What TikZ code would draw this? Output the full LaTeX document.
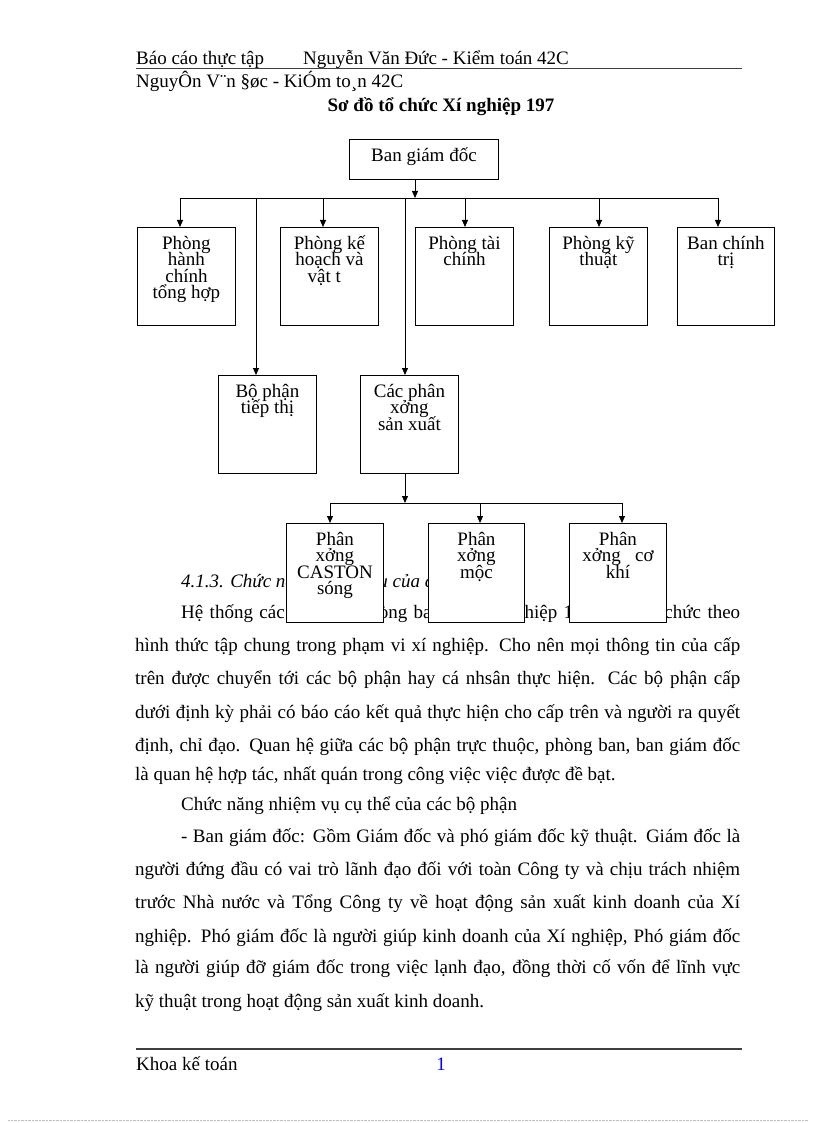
\documentclass[tikz,border=0pt]{standalone}
\usepackage{fontspec}
\setmainfont{Liberation Serif}
\usetikzlibrary{arrows.meta}

\newcommand{\unittext}[3]{\parbox[c][#2][t]{#1}{\centering\fontsize{19}{16.5}\selectfont\lineskiplimit=-100pt\rule{0pt}{22pt}#3}}
\newcommand{\fullline}[1]{\makebox[605pt][s]{#1}}
\newcommand{\indline}[1]{\makebox[559pt][s]{#1}}

\begin{document}
\begin{tikzpicture}[
    x=1pt, y=-1pt,
    font=\fontsize{19}{22}\selectfont,
    unit/.style={draw, line width=0.9pt, fill=white, inner sep=0pt, anchor=north west},
    txt/.style={anchor=base west, inner sep=0pt},
    link/.style={line width=0.9pt},
    arr/.style={link, -{Triangle[length=7pt,width=6pt]}},
    rule/.style={line width=1pt, black!75}
  ]
    \fill[white] (0,0) rectangle (816,1123);
    \useasboundingbox (0,0) rectangle (816,1123);

    \node[txt] (hd1) at (136,65) {Báo cáo thực tập};
    \node[txt] (hd2) at (303,65) {Nguyễn Văn Đức - Kiểm toán 42C};
    \draw[rule] (136,69) -- (742,69);
    \node[txt] (hd3) at (136,88) {NguyÔn V¨n §øc - KiÓm to¸n 42C};
    \node[anchor=base, inner sep=0pt, font=\fontsize{19}{22}\selectfont\bfseries] (title) at (441,112) {Sơ đồ tổ chức Xí nghiệp 197};

    \node[txt] (h413) at (181,587) {\itshape 4.1.3. Chức năng nhiệm vụ của các bộ phận};
    \node[txt] (p1) at (181,618) {\indline{Hệ thống các bộ phận phòng ban của Xí nghiệp 197 được tổ chức theo}};
    \node[txt] (p2) at (135,651) {\fullline{hình thức tập chung trong phạm vi xí nghiệp. Cho nên mọi thông tin của cấp}};
    \node[txt] (p3) at (135,684) {\fullline{trên được chuyển tới các bộ phận hay cá nhsân thực hiện. Các bộ phận cấp}};
    \node[txt] (p4) at (135,718) {\fullline{dưới định kỳ phải có báo cáo kết quả thực hiện cho cấp trên và người ra quyết}};
    \node[txt] (p5) at (135,751) {\fullline{định, chỉ đạo. Quan hệ giữa các bộ phận trực thuộc, phòng ban, ban giám đốc}};
    \node[txt] (p6) at (135,780) {là quan hệ hợp tác, nhất quán trong công việc việc được đề bạt.};
    \node[txt] (p7) at (181,810) {Chức năng nhiệm vụ cụ thể của các bộ phận};
    \node[txt] (p8) at (181,842) {\indline{- Ban giám đốc: Gồm Giám đốc và phó giám đốc kỹ thuật. Giám đốc là}};
    \node[txt] (p9) at (135,875) {\fullline{người đứng đầu có vai trò lãnh đạo đối với toàn Công ty và chịu trách nhiệm}};
    \node[txt] (p10) at (135,908) {\fullline{trước Nhà nước và Tổng Công ty về hoạt động sản xuất kinh doanh của Xí}};
    \node[txt] (p11) at (135,942) {\fullline{nghiệp. Phó giám đốc là người giúp kinh doanh của Xí nghiệp, Phó giám đốc}};
    \node[txt] (p12) at (135,973) {\fullline{là người giúp đỡ giám đốc trong việc lạnh đạo, đồng thời cố vốn để lĩnh vực}};
    \node[txt] (p13) at (135,1007) {kỹ thuật trong hoạt động sản xuất kinh doanh.};

    \draw[rule, line width=1.3pt] (136,1049) -- (742,1049);
    \node[txt] (ft) at (136,1070) {Khoa kế toán};
    \node[anchor=base, inner sep=0pt, text=blue] (pg) at (441,1070) {1};
    \draw[black!25, densely dotted] (8,1120) -- (808,1120);

    \node[unit] (ban) at (349,139) {\unittext{149pt}{40pt}{Ban giám đốc}};
    \node[unit] (hc) at (137,227) {\unittext{98pt}{98pt}{Phòng\\hành\\chính\\tổng hợp}};
    \node[unit] (kh) at (280,227) {\unittext{98pt}{98pt}{Phòng kế\\hoạch và\\vật t\hphantom{ư}}};
    \node[unit] (tc) at (415,227) {\unittext{98pt}{98pt}{Phòng tài\\chính}};
    \node[unit] (kt) at (549,227) {\unittext{98pt}{98pt}{Phòng kỹ\\thuật}};
    \node[unit] (ct) at (677,227) {\unittext{97pt}{98pt}{Ban chính\\trị}};
    \node[unit] (tt) at (218,375) {\unittext{98pt}{98pt}{Bộ phận\\tiếp thị}};
    \node[unit] (px) at (360,375) {\unittext{98pt}{98pt}{Các phân\\xởng\\sản xuất}};
    \node[unit] (cs) at (286,523) {\unittext{97pt}{99pt}{Phân\\xởng\\CASTON\\sóng}};
    \node[unit] (mo) at (428,523) {\unittext{96pt}{99pt}{Phân\\xởng\\mộc}};
    \node[unit] (ck) at (569,523) {\unittext{97pt}{99pt}{Phân\\xởng~~~cơ\\khí}};

    \coordinate (busL) at (180,198);
    \coordinate (busR) at (718,198);
    \coordinate (banout) at (415,198);
    \draw[link] (busL) -- (busR);
    \draw[arr] (banout |- ban.south) -- (banout);
    \foreach \n/\x in {hc/180, kh/323, tc/465, kt/599, ct/718}{
      \coordinate (b\n) at (\x,198);
      \draw[arr] (b\n) -- (b\n |- \n.north);
    }
    \coordinate (btt) at (256,198);
    \coordinate (bpx) at (405,198);
    \draw[arr] (btt) -- (btt |- tt.north);
    \draw[arr] (bpx) -- (bpx |- px.north);

    \coordinate (subL) at (330,503);
    \coordinate (subR) at (622,503);
    \coordinate (subin) at (405,503);
    \draw[link] (subL) -- (subR);
    \draw[arr] (subin |- px.south) -- (subin);
    \foreach \n/\x in {cs/330, mo/480, ck/622}{
      \coordinate (s\n) at (\x,503);
      \draw[arr] (s\n) -- (s\n |- \n.north);
    }
  \end{tikzpicture}
\end{document}
